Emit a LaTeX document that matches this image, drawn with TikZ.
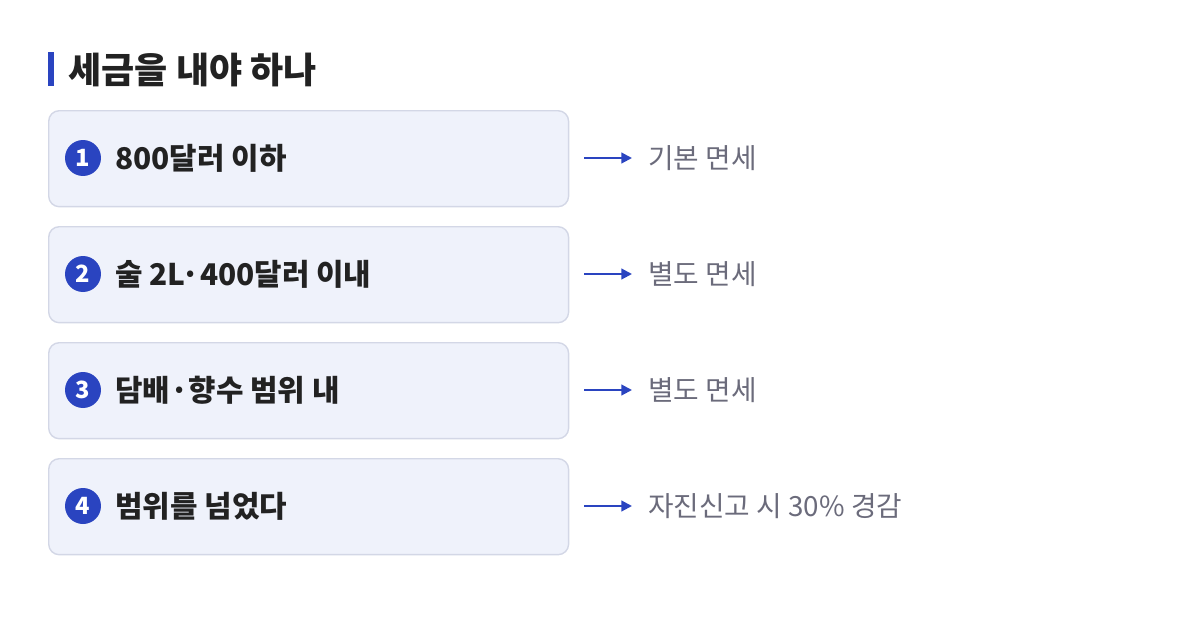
\documentclass[tikz,border=0pt]{standalone}
\usepackage{fontspec}
\setmainfont{Noto Sans CJK KR}
\usetikzlibrary{arrows.meta,positioning}
\definecolor{accent}{HTML}{2A44C0}
\definecolor{boxfill}{HTML}{EFF2FB}
\definecolor{boxline}{HTML}{D3D7E6}
\definecolor{ink}{HTML}{222222}
\definecolor{muted}{HTML}{6B6B7B}

\tikzset{
  item/.style={draw=boxline,fill=boxfill,rounded corners=6pt,line width=0.8pt,
    minimum width=10.4cm,minimum height=1.92cm,anchor=north west},
  badge/.style={circle,fill=accent,text=white,minimum size=0.72cm,inner sep=0pt,
    font=\bfseries\fontsize{13.5}{13.5}\selectfont},
  label/.style={anchor=west,text=ink,inner sep=0pt,font=\bfseries\fontsize{17}{17}\selectfont},
  note/.style={anchor=west,text=muted,font=\fontsize{15.8}{15.8}\selectfont,inner sep=0pt},
  link/.style={accent,line width=1.2pt,-{Triangle[length=6pt,width=6pt]}}
}

\begin{document}
\begin{tikzpicture}[x=0.02cm,y=-0.02cm]
  \useasboundingbox (0,0) rectangle (1200,622);
  % title
  \fill[accent] (48,52) rectangle (54,86);
  \node[anchor=west,text=ink,font=\bfseries\fontsize{20.5}{20.5}\selectfont,inner sep=0pt]
    (title) at (68,70) {세금을 내야 하나};

  \foreach \i/\txt/\res in {1/800달러 이하/기본 면세,
                            2/술 2L·400달러 이내/별도 면세,
                            3/담배·향수 범위 내/별도 면세,
                            4/범위를 넘었다/자진신고 시 30\% 경감}{
    \pgfmathsetmacro\top{110+116*(\i-1)}
    \pgfmathsetmacro\mid{\top+48}
    \node[item] (box\i) at (48,\top) {};
    \node[badge] (num\i) at (83,\mid) {\i};
    \node[label] (lbl\i) at (115,\mid) {\txt};
    \coordinate (arr\i) at (584,\mid);
    \node[note] (res\i) at (648,\mid) {\res};
    \draw[link] (arr\i) -- ([xshift=-0.32cm]res\i.west);
  }
\end{tikzpicture}
\end{document}
